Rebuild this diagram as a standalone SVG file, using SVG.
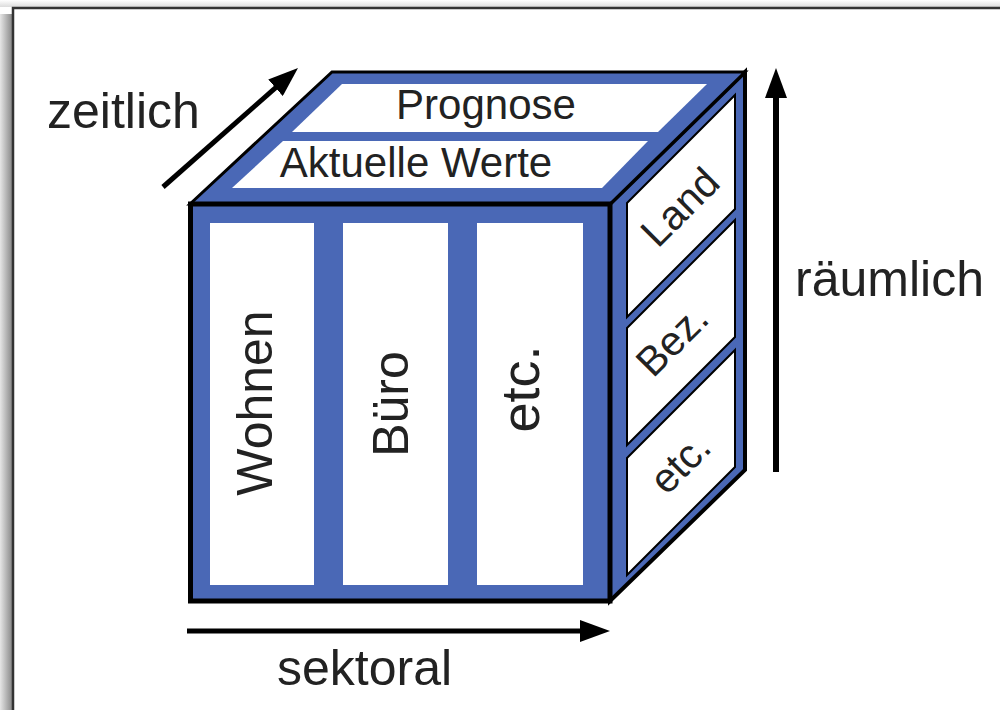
<svg xmlns="http://www.w3.org/2000/svg" width="1000" height="710" viewBox="0 0 1000 710">
  <defs>
    <linearGradient id="shadowLeft" x1="0" y1="0" x2="1" y2="0">
      <stop offset="0" stop-color="#e6e6e6"/>
      <stop offset="1" stop-color="#8a8a8a"/>
    </linearGradient>
    <linearGradient id="shadowTop" x1="0" y1="0" x2="0" y2="1">
      <stop offset="0" stop-color="#ffffff"/>
      <stop offset="1" stop-color="#dcdcdc"/>
    </linearGradient>
    <marker id="arrowHead" markerUnits="userSpaceOnUse" viewBox="0 0 30 22" markerWidth="30" markerHeight="22" refX="15" refY="11" orient="auto">
      <path d="M0,0 L30,11 L0,22 z" fill="#000"/>
    </marker>
    <style>
      .face { fill: #4a68b6; stroke: #000; stroke-linejoin: miter; }
      .slot { fill: #ffffff; }
      .cell { fill: #ffffff; stroke: #000; stroke-width: 2; }
      .lbl { font-family: "Liberation Sans", Arial, sans-serif; fill: #222; }
      .axis { stroke: #000; fill: none; marker-end: url(#arrowHead); }
    </style>
  </defs>

  <!-- page background with drop-shadowed frame -->
  <rect x="0" y="0" width="1000" height="710" fill="#ffffff"/>
  <rect x="0" y="0" width="1000" height="7" fill="url(#shadowTop)"/>
  <rect x="0" y="14" width="12" height="696" fill="url(#shadowLeft)"/>
  <path d="M13,710 L13,8 L1000,8" fill="none" stroke="#333" stroke-width="2.5"/>

  <!-- cube: right face (spatial levels) -->
  <g id="face-right">
    <polygon class="face" stroke-width="4" points="610,204 745,72 745,470 610,601"/>
    <polygon class="cell" points="627,203 735,95 735,209 627,317"/>
    <polygon class="cell" points="627,328 735,220 735,337 627,445"/>
    <polygon class="cell" points="627,458 735,350 735,467 627,575"/>
    <text class="lbl" font-size="41" text-anchor="middle" transform="translate(690,217) rotate(-45)">Land</text>
    <text class="lbl" font-size="41" text-anchor="middle" transform="translate(682,350) rotate(-45)">Bez.</text>
    <text class="lbl" font-size="41" text-anchor="middle" transform="translate(690,473) rotate(-45)">etc.</text>
  </g>

  <!-- cube: top face (time) -->
  <g id="face-top">
    <polygon class="face" stroke-width="3" points="190,204 332,72 745,72 610,204"/>
    <polygon class="slot" points="342,84 707,84 658,132 292,132"/>
    <polygon class="slot" points="283,141 648,141 602,188 232,188"/>
    <text class="lbl" font-size="42" x="486" y="119" text-anchor="middle">Prognose</text>
    <text class="lbl" font-size="42" x="416" y="177" text-anchor="middle">Aktuelle Werte</text>
  </g>

  <!-- cube: front face (sectors) -->
  <g id="face-front">
    <rect class="face" stroke-width="5" x="190.5" y="204" width="419.5" height="397"/>
    <rect class="slot" x="210" y="223" width="104" height="362"/>
    <rect class="slot" x="343" y="223" width="105" height="362"/>
    <rect class="slot" x="477" y="223" width="106" height="362"/>
    <text class="lbl" font-size="50" text-anchor="middle" transform="translate(272,403) rotate(-90)">Wohnen</text>
    <text class="lbl" font-size="50" text-anchor="middle" transform="translate(408,404) rotate(-90)">Büro</text>
    <text class="lbl" font-size="54" text-anchor="middle" transform="translate(539,389) rotate(-90)">etc.</text>
  </g>

  <!-- axis arrows -->
  <g id="connectors">
    <line class="axis" stroke-width="5" x1="163" y1="187" x2="286.75" y2="77.9"/>
    <line class="axis" stroke-width="6" x1="776" y1="472" x2="776" y2="83"/>
    <line class="axis" stroke-width="5" x1="187" y1="631" x2="595" y2="631"/>
  </g>

  <!-- axis labels -->
  <g id="axis-labels">
    <text class="lbl" font-size="50" x="47" y="128">zeitlich</text>
    <text class="lbl" font-size="50" x="795" y="296">räumlich</text>
    <text class="lbl" font-size="50" x="277" y="685">sektoral</text>
  </g>
</svg>
